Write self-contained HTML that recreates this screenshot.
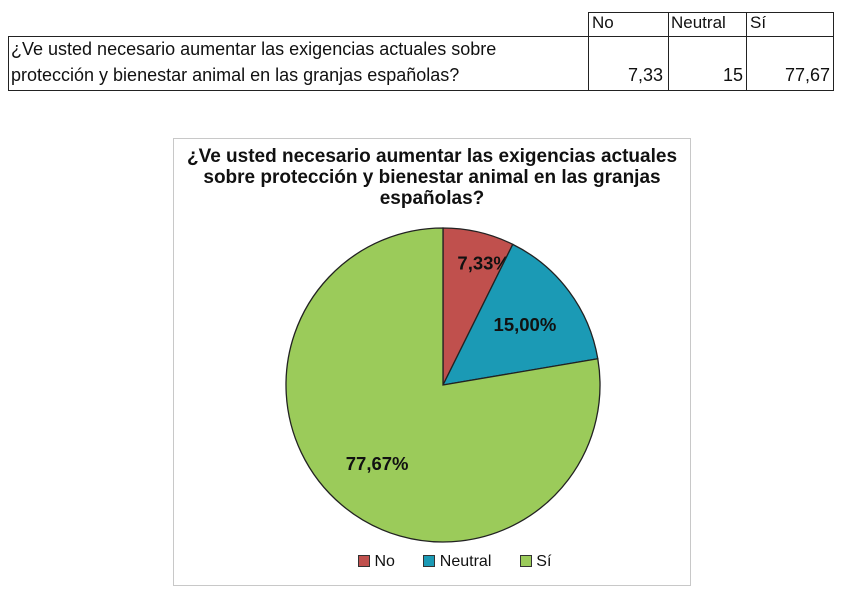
<!DOCTYPE html>
<html><head><meta charset="utf-8">
<style>
body{margin:0;width:841px;height:600px;background:#fff;position:relative;overflow:hidden;font-family:"Liberation Sans",sans-serif;}
.t{position:absolute;font-family:"Liberation Sans",sans-serif;font-size:18px;color:#111;white-space:nowrap;}
.b{position:absolute;border:1.5px solid #222;box-sizing:border-box;}
</style></head><body>
<div>
<div class="b" style="left:588px;top:12px;width:246px;height:25px;"></div>
<div class="b" style="left:8px;top:36px;width:826px;height:55px;"></div>
<div class="b" style="left:588px;top:12px;width:81px;height:79px;border-width:0 1.5px 0 1.5px"></div>
<div class="b" style="left:667px;top:12px;width:80px;height:79px;border-width:0 1.5px 0 0"></div>
<div class="t" style="left:592px;top:13px;font-size:17px">No</div>
<div class="t" style="left:671px;top:13px;font-size:17px">Neutral</div>
<div class="t" style="left:750px;top:13px;font-size:17px">Sí</div>
<div class="t" style="left:11px;top:39px;">¿Ve usted necesario aumentar las exigencias actuales sobre</div>
<div class="t" style="left:11px;top:65px;">protección y bienestar animal en las granjas españolas?</div>
<div class="t" style="left:590px;top:65px;width:73px;text-align:right;">7,33</div>
<div class="t" style="left:669px;top:65px;width:74px;text-align:right;">15</div>
<div class="t" style="left:748px;top:65px;width:82px;text-align:right;">77,67</div>
</div>
<div style="position:absolute;left:173px;top:138px;width:518px;height:448px;border:1px solid #c8c8c8;box-sizing:border-box;"></div>
<div style="position:absolute;left:173px;top:146px;width:518px;text-align:center;font-weight:bold;font-size:19px;line-height:21px;color:#111;white-space:nowrap;">¿Ve usted necesario aumentar las exigencias actuales<br>sobre protección y bienestar animal en las granjas<br>españolas?</div>
<svg id="pie" width="841" height="600" style="position:absolute;left:0;top:0"></svg>
<div style="position:absolute;left:358px;top:553px;font-size:16px;color:#111;white-space:nowrap;">
<span><span style="display:inline-block;width:10px;height:10px;background:#C0504D;border:1px solid #333;vertical-align:-1px"></span> No</span>
<span style="margin-left:24px"><span style="display:inline-block;width:10px;height:10px;background:#1B9AB5;border:1px solid #333;vertical-align:-1px"></span> Neutral</span>
<span style="margin-left:24px"><span style="display:inline-block;width:10px;height:10px;background:#9BCB5A;border:1px solid #333;vertical-align:-1px"></span> Sí</span>
</div>
<script>
const categories=["No","Neutral","Sí"];
const values=[7.33,15,77.67];
const labels=["7,33%","15,00%","77,67%"];
const colors=["#C0504D","#1B9AB5","#9BCB5A"];
const cx=443,cy=385,r=157;
const svg=document.getElementById('pie');
const ns="http://www.w3.org/2000/svg";
const total=values.reduce((a,b)=>a+b,0);
let a0=0;
values.forEach((v,i)=>{
  const a1=a0+v/total*2*Math.PI;
  const x0=cx+r*Math.sin(a0),y0=cy-r*Math.cos(a0),x1=cx+r*Math.sin(a1),y1=cy-r*Math.cos(a1);
  const p=document.createElementNS(ns,'path');
  p.setAttribute('d',`M${cx},${cy}L${x0},${y0}A${r},${r} 0 ${a1-a0>Math.PI?1:0} 1 ${x1},${y1}Z`);
  p.setAttribute('fill',colors[i]);p.setAttribute('stroke','#222');p.setAttribute('stroke-width','1.3');
  
  
  svg.appendChild(p);
  const m=(a0+a1)/2, lr=i===0?0.8*r:0.65*r, dx=i===0?12:0;
  const t=document.createElementNS(ns,'text');
  t.setAttribute('x',cx+lr*Math.sin(m)+dx);t.setAttribute('y',cy-lr*Math.cos(m)+7);
  t.setAttribute('text-anchor','middle');t.setAttribute('font-family','Liberation Sans, sans-serif');
  t.setAttribute('font-weight','bold');t.setAttribute('font-size','18.5');t.setAttribute('fill','#111');
  t.textContent=labels[i];
  
  
  svg.appendChild(t);
  a0=a1;
});
</script>
</body></html>
